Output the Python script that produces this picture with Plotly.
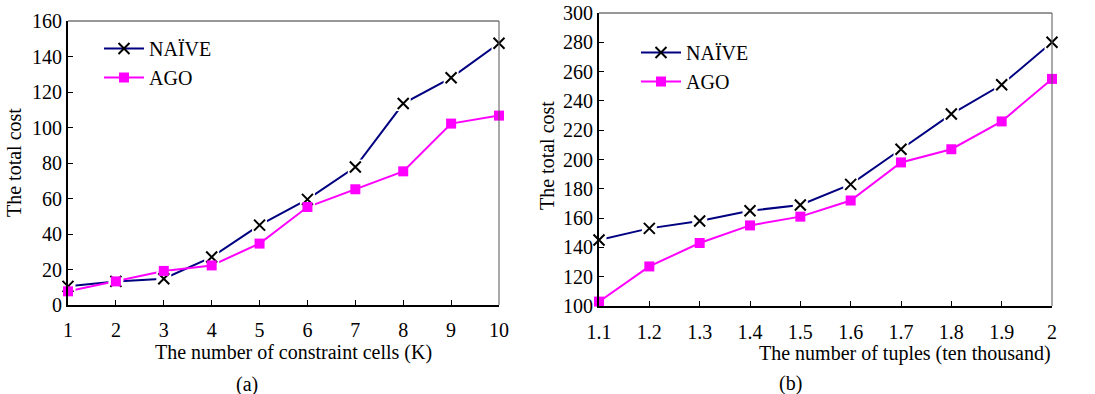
import plotly.graph_objects as go

# ---- data ----
k_cells = [1, 2, 3, 4, 5, 6, 7, 8, 9, 10]
naive_a = [10.5, 13.3, 14.8, 27, 45, 59.5, 77.7, 113.5, 128, 147.5]
ago_a = [7.7, 13.3, 19.2, 22.3, 34.6, 55.2, 65.2, 75.3, 102.2, 106.7]

tuples = [1.1, 1.2, 1.3, 1.4, 1.5, 1.6, 1.7, 1.8, 1.9, 2.0]
tuple_labels = ["1.1", "1.2", "1.3", "1.4", "1.5", "1.6", "1.7", "1.8", "1.9", "2"]
naive_b = [145, 153, 158, 165, 169, 183, 207, 231, 251, 280]
ago_b = [103, 127, 143, 155, 161, 172, 198, 207, 226, 255]

y_ticks_a = [0, 20, 40, 60, 80, 100, 120, 140, 160]
y_ticks_b = [100, 120, 140, 160, 180, 200, 220, 240, 260, 280, 300]

FONT = "Liberation Serif"
FS = 20
NAVY = "#000080"
MAG = "#ff00ff"
W, H = 1095, 394

def px(x):
    return x / W

def py(y):
    return (H - y) / H

fig = go.Figure()

def add_panel(xs, naive, ago, xa, ya, legend):
    fig.add_trace(go.Scatter(x=xs, y=naive, mode="lines", line=dict(color=NAVY, width=2),
                             xaxis=xa, yaxis=ya, showlegend=False, cliponaxis=False, hoverinfo="skip"))
    fig.add_trace(go.Scatter(x=xs, y=ago, mode="lines", line=dict(color=MAG, width=2),
                             xaxis=xa, yaxis=ya, showlegend=False, cliponaxis=False, hoverinfo="skip"))
    fig.add_trace(go.Scatter(x=xs, y=naive, mode="markers",
                             marker=dict(symbol="square", size=15, color="white"),
                             xaxis=xa, yaxis=ya, showlegend=False, cliponaxis=False, hoverinfo="skip"))
    fig.add_trace(go.Scatter(x=xs, y=naive, mode="markers", name="NAÏVE",
                             marker=dict(symbol="x-thin", size=11, color="black",
                                         line=dict(color="black", width=2)),
                             xaxis=xa, yaxis=ya, showlegend=False, cliponaxis=False))
    fig.add_trace(go.Scatter(x=xs, y=ago, mode="markers", name="AGO",
                             marker=dict(symbol="square", size=10, color=MAG),
                             xaxis=xa, yaxis=ya, showlegend=False, cliponaxis=False))
    # legend-only traces
    fig.add_trace(go.Scatter(x=[None], y=[None], mode="lines+markers", name="NAÏVE",
                             line=dict(color=NAVY, width=2),
                             marker=dict(symbol="x-thin", size=11, color="black",
                                         line=dict(color="black", width=2)),
                             xaxis=xa, yaxis=ya, legend=legend))
    fig.add_trace(go.Scatter(x=[None], y=[None], mode="lines+markers", name="AGO",
                             line=dict(color=MAG, width=2),
                             marker=dict(symbol="square", size=10, color=MAG),
                             xaxis=xa, yaxis=ya, legend=legend))

add_panel(k_cells, naive_a, ago_a, "x", "y", "legend")
add_panel(tuples, naive_b, ago_b, "x2", "y2", "legend2")

axis_common = dict(showline=True, linecolor="black", linewidth=2, ticks="inside", ticklen=5,
                   tickcolor="black", tickwidth=1, showgrid=False, zeroline=False, automargin=False,
                   tickfont=dict(family=FONT, size=FS, color="black"))

fig.update_layout(
    width=W, height=H, margin=dict(l=0, r=0, t=0, b=0, autoexpand=False),
    paper_bgcolor="white", plot_bgcolor="white",
    font=dict(family=FONT, size=FS, color="black"),
    xaxis=dict(domain=[px(68), px(499)], anchor="y", range=[1, 10], tickvals=k_cells,
               ticktext=[str(v) for v in k_cells], ticklabelstandoff=6, **axis_common),
    yaxis=dict(domain=[py(305), py(21)], anchor="x", range=[0, 160], tickvals=y_ticks_a, **axis_common),
    xaxis2=dict(domain=[px(599), px(1052)], anchor="y2", range=[1.1, 2.0], tickvals=tuples,
                ticktext=tuple_labels, ticklabelstandoff=7, **axis_common),
    yaxis2=dict(domain=[py(306), py(13)], anchor="x2", range=[100, 300], tickvals=y_ticks_b, **axis_common),
    legend=dict(x=px(99), y=py(29), xanchor="left", yanchor="top", bgcolor="white",
                font=dict(family=FONT, size=FS), tracegroupgap=0, itemwidth=40),
    legend2=dict(x=px(636), y=py(33), xanchor="left", yanchor="top", bgcolor="white",
                 font=dict(family=FONT, size=FS), tracegroupgap=0, itemwidth=40),
)

# thin box top/right lines
for xr, yr in [("x", "y"), ("x2", "y2")]:
    fig.add_shape(type="line", xref=f"{xr} domain", yref=f"{yr} domain", x0=0, x1=1, y0=1, y1=1,
                  line=dict(color="#333333", width=1))
    fig.add_shape(type="line", xref=f"{xr} domain", yref=f"{yr} domain", x0=1, x1=1, y0=0, y1=1,
                  line=dict(color="#555555", width=1))

annots = [
    dict(text="The number of constraint cells (K)", x=px(293), y=py(352)),
    dict(text="(a)", x=px(247), y=py(384)),
    dict(text="The number of tuples (ten thousand)", x=px(905), y=py(353)),
    dict(text="(b)", x=px(790), y=py(383)),
]
for a in annots:
    fig.add_annotation(text=a["text"], x=a["x"], y=a["y"], xref="paper", yref="paper",
                       showarrow=False, xanchor="center", yanchor="middle",
                       font=dict(family=FONT, size=FS, color="black"))
for xpos, ypos in [(14, 163), (547, 156)]:
    fig.add_annotation(text="The total cost", x=px(xpos), y=py(ypos), xref="paper", yref="paper",
                       showarrow=False, textangle=-90, xanchor="center", yanchor="middle",
                       font=dict(family=FONT, size=FS, color="black"))

fig.write_html("out.html", config={"displayModeBar": False},
               post_script="document.body.style.margin='0px';")
